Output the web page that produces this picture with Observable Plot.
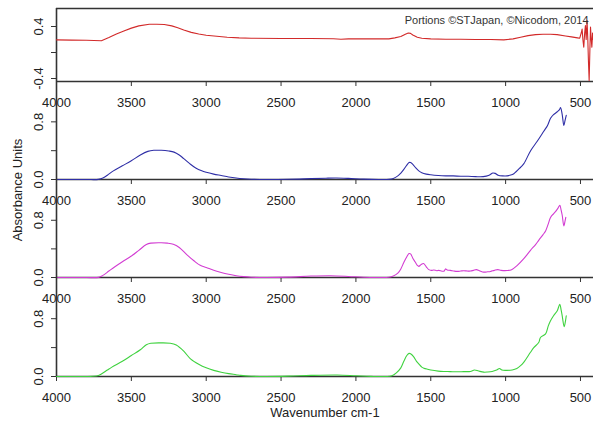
<!DOCTYPE html>
<html>
<head>
<meta charset="utf-8">
<script src="https://cdn.jsdelivr.net/npm/d3@7"></script>
<script src="https://cdn.jsdelivr.net/npm/@observablehq/plot@0.6"></script>
<style>
  body { margin: 0; background: #fff; }
  #chart { position: relative; width: 593px; height: 421px; overflow: hidden;
           font-family: "Liberation Sans", Arial, Helvetica, sans-serif; color: #222; }
  .panel { position: absolute; left: 0; }
  .panel svg { overflow: visible; display: block; }
  #ylab { position: absolute; left: 17px; top: 190px; transform: translate(-50%, -50%) rotate(-90deg);
          font-size: 13px; white-space: nowrap; }
  #xlab { position: absolute; left: 325px; top: 412px; transform: translate(-50%, -50%);
          font-size: 13px; white-space: nowrap; }
</style>
</head>
<body>
<div id="chart">
  <div id="ylab">Absorbance Units</div>
  <div id="xlab">Wavenumber cm-1</div>
</div>
<script>
// ---------- data ----------
const xTicks = [4000, 3500, 3000, 2500, 2000, 1500, 1000, 500];
const caption = "Portions ©STJapan, ©Nicodom, 2014";

const redTicks = [-0.4, 0, 0.4];
const redTickLabels = ["-0.4", "", "0.4"];
const absTicks = [0, 0.4, 0.8];
const absTickLabels = ["0.0", "", "0.8"];

// Panel 1 (red, difference spectrum)
const wnRed = [4000,3900,3800,3700,3650,3600,3550,3500,3450,3380,3330,3280,3230,3190,3150,3100,3050,3000,2930,2860,2780,2700,2500,2300,2150,2100,2050,1900,1780,1740,1700,1670,1650,1635,1620,1590,1560,1500,1400,1300,1200,1100,1012,950,900,850,800,750,700,656,600,560,520,505,495,489,484,478,472,467,462,456,451,447,442,437,433,428,424,419,415];
const absRed = [0.195,0.19,0.188,0.18,0.23,0.285,0.33,0.375,0.41,0.435,0.435,0.43,0.41,0.38,0.345,0.31,0.285,0.265,0.25,0.235,0.225,0.22,0.215,0.215,0.212,0.205,0.21,0.21,0.21,0.225,0.245,0.28,0.30,0.295,0.27,0.235,0.22,0.21,0.205,0.205,0.2,0.2,0.195,0.21,0.235,0.26,0.275,0.28,0.28,0.275,0.255,0.24,0.225,0.22,0.3,0.36,0.2,0.08,0.3,0.415,0.2,0.49,0.2,-0.12,-0.43,0.05,0.39,0.2,0.08,0.3,0.2];

// Panel 2 (blue)
const wnBlue = [4000,3800,3720,3690,3660,3620,3560,3500,3440,3390,3350,3300,3250,3215,3180,3150,3110,3070,3030,3000,2950,2900,2850,2800,2750,2700,2600,2450,2300,2200,2130,2050,1950,1850,1780,1750,1720,1700,1680,1660,1645,1635,1620,1600,1580,1560,1530,1500,1450,1400,1350,1300,1250,1200,1150,1110,1085,1070,1050,1020,990,960,945,900,878,833,789,745,720,700,680,655,640,633,622,611,603,595];
const absBlue = [0,0,0.002,0.02,0.06,0.12,0.19,0.26,0.34,0.39,0.405,0.405,0.395,0.38,0.34,0.29,0.22,0.16,0.12,0.10,0.075,0.055,0.035,0.02,0.01,0.004,0,0.003,0.012,0.018,0.02,0.015,0.005,0,0.002,0.015,0.05,0.09,0.14,0.2,0.235,0.235,0.21,0.16,0.12,0.095,0.075,0.065,0.055,0.05,0.05,0.045,0.045,0.04,0.04,0.06,0.09,0.085,0.06,0.05,0.05,0.065,0.08,0.17,0.22,0.40,0.53,0.67,0.75,0.85,0.9,0.94,0.97,1.0,0.9,0.75,0.82,0.89];

// Panel 3 (magenta)
const wnMagenta = [4000,3800,3720,3690,3650,3610,3560,3500,3450,3400,3370,3300,3260,3220,3180,3130,3080,3040,3000,2950,2900,2850,2800,2750,2700,2600,2450,2300,2170,2050,1950,1850,1780,1750,1720,1700,1680,1660,1645,1635,1620,1605,1590,1580,1565,1548,1530,1513,1495,1480,1460,1446,1425,1410,1402,1390,1369,1345,1324,1300,1280,1255,1235,1215,1195,1175,1146,1120,1101,1075,1052,1030,990,960,922,880,834,800,779,750,733,715,700,680,667,650,638,630,622,611,603,598];
const absMagenta = [0,0,0.002,0.03,0.09,0.15,0.22,0.3,0.38,0.46,0.48,0.485,0.48,0.465,0.42,0.32,0.23,0.17,0.14,0.1,0.07,0.045,0.025,0.012,0.004,0,0.005,0.02,0.025,0.015,0.003,0,0.003,0.02,0.06,0.12,0.21,0.29,0.335,0.33,0.27,0.22,0.17,0.155,0.18,0.195,0.15,0.11,0.1,0.105,0.095,0.1,0.088,0.09,0.12,0.105,0.1,0.09,0.085,0.09,0.095,0.09,0.09,0.1,0.11,0.095,0.075,0.08,0.085,0.1,0.11,0.1,0.098,0.11,0.17,0.26,0.38,0.46,0.52,0.6,0.65,0.75,0.84,0.89,0.92,0.97,1.01,0.95,0.87,0.72,0.79,0.84];

// Panel 4 (green)
const wnGreen = [4000,3800,3760,3720,3700,3660,3630,3560,3500,3440,3400,3370,3300,3240,3200,3150,3105,3050,3000,2950,2900,2850,2800,2770,2700,2600,2450,2300,2125,2000,1900,1800,1760,1730,1700,1680,1660,1645,1635,1615,1595,1580,1560,1546,1520,1500,1450,1413,1370,1324,1280,1235,1208,1180,1146,1120,1090,1060,1041,1025,1000,956,925,900,878,834,812,779,767,733,715,700,680,655,638,630,622,609,600,595];
const absGreen = [0,0,0.003,0.015,0.035,0.09,0.13,0.21,0.29,0.37,0.44,0.46,0.465,0.46,0.435,0.35,0.245,0.17,0.12,0.085,0.06,0.04,0.025,0.015,0.004,0,0.005,0.015,0.02,0.01,0.002,0,0.01,0.05,0.12,0.21,0.29,0.32,0.315,0.275,0.21,0.175,0.13,0.115,0.1,0.09,0.075,0.07,0.068,0.065,0.068,0.07,0.09,0.075,0.06,0.062,0.07,0.09,0.11,0.09,0.085,0.09,0.11,0.15,0.2,0.335,0.4,0.47,0.54,0.59,0.7,0.77,0.84,0.91,1.0,0.93,0.84,0.69,0.77,0.84];

// ---------- drawing ----------
const axisColor = "#333";
const textColor = "#222";
const chart = document.getElementById("chart");

function makePanel({wn, ab, color, curve, yDomain, yTicks, yLabels, top, plotHeight, marginTop, withCaption, withTopRule}) {
  const data = wn.map((w, i) => ({w, a: ab[i]}));
  const marginBottom = 32;
  const marks = [
    Plot.ruleX([4000], {stroke: axisColor, strokeWidth: 1.6}),
    Plot.ruleY([yDomain[0]], {stroke: axisColor, strokeWidth: 1.6}),
    Plot.axisX({ticks: xTicks, tickSize: 5, tickPadding: 11, tickFormat: d => String(d),
                label: null, stroke: axisColor, fill: textColor}),
    Plot.axisY({ticks: yTicks, tickSize: 5, tickPadding: 9, tickRotate: -90,
                tickFormat: d => yLabels[yTicks.indexOf(d)] ?? "",
                label: null, stroke: axisColor, fill: textColor}),
    Plot.line(data, {x: "w", y: "a", stroke: color, strokeWidth: 1.1, curve})
  ];
  if (withTopRule) marks.push(Plot.ruleY([yDomain[1]], {stroke: axisColor, strokeWidth: 1.6}));
  if (withCaption) marks.push(Plot.text([caption], {text: d => d, frameAnchor: "top-right", dx: -5, dy: 8,
                                                    lineAnchor: "top", textAnchor: "end", fontSize: 11, fill: "#333"}));
  const svg = Plot.plot({
    width: 593,
    height: marginTop + plotHeight + marginBottom,
    marginLeft: 56, marginRight: 0, marginTop, marginBottom,
    x: {domain: [4000, 413], label: null},
    y: {domain: yDomain, label: null},
    style: {fontFamily: "'Liberation Sans', Arial, Helvetica, sans-serif", fontSize: "13px",
            background: "transparent", overflow: "visible", color: textColor},
    marks
  });
  const div = document.createElement("div");
  div.className = "panel";
  div.style.top = top + "px";
  div.appendChild(svg);
  chart.appendChild(div);
}

makePanel({wn: wnRed, ab: absRed, color: "#d22a2a", curve: "linear", yDomain: [-0.446, 0.677],
           yTicks: redTicks, yLabels: redTickLabels, top: 0, plotHeight: 73, marginTop: 8,
           withCaption: true, withTopRule: true});
makePanel({wn: wnBlue, ab: absBlue, color: "#2e2ea6", curve: "catmull-rom", yDomain: [0, 1.36],
           yTicks: absTicks, yLabels: absTickLabels, top: 81, plotHeight: 98, marginTop: 0});
makePanel({wn: wnMagenta, ab: absMagenta, color: "#d23cd2", curve: "catmull-rom", yDomain: [0, 1.37],
           yTicks: absTicks, yLabels: absTickLabels, top: 179, plotHeight: 98, marginTop: 0});
makePanel({wn: wnGreen, ab: absGreen, color: "#3fd23f", curve: "catmull-rom", yDomain: [0, 1.37],
           yTicks: absTicks, yLabels: absTickLabels, top: 277, plotHeight: 99, marginTop: 0});
</script>
</body>
</html>
